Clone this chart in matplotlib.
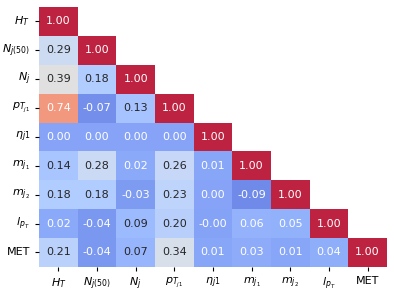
import numpy as np
import seaborn as sns
from matplotlib import pyplot as plt

labels = [r'$H_T$', r'$N_{j(50)}$', r'$N_j$', r'$p_{T_{j1}}$', r'$\eta_{j1}$',
          r'$m_{j_1}$', r'$m_{j_2}$', r'$l_{p_T}$', 'MET']

# lower triangle of the correlation matrix, row by row
rows = [
    [1.00],
    [0.29, 1.00],
    [0.39, 0.18, 1.00],
    [0.74, -0.07, 0.13, 1.00],
    [0.00, 0.00, 0.00, 0.00, 1.00],
    [0.14, 0.28, 0.02, 0.26, 0.01, 1.00],
    [0.18, 0.18, -0.03, 0.23, 0.00, -0.09, 1.00],
    [0.02, -0.04, 0.09, 0.20, -0.001, 0.06, 0.05, 1.00],
    [0.21, -0.04, 0.07, 0.34, 0.01, 0.03, 0.01, 0.04, 1.00],
]

n = len(labels)
corr = np.zeros((n, n))
for i, r in enumerate(rows):
    corr[i, :len(r)] = r
    corr[:len(r), i] = r
mask = np.triu(np.ones((n, n), dtype=bool), k=1)

fig = plt.figure(figsize=(3.94, 2.93), dpi=100)
ax = fig.add_axes([0.099, 0.089, 0.883, 0.887])
sns.heatmap(corr, mask=mask, cmap='coolwarm', vmin=-0.22, vmax=1.0, alpha=0.88,
            annot=True, fmt='.2f', annot_kws={'size': 8}, cbar=False,
            xticklabels=labels, yticklabels=labels, ax=ax)
ax.tick_params(labelsize=8, length=3, width=0.8)
plt.setp(ax.get_yticklabels(), rotation=0)
plt.setp(ax.get_xticklabels(), rotation=0)
fig.savefig('out.png', dpi=100)
